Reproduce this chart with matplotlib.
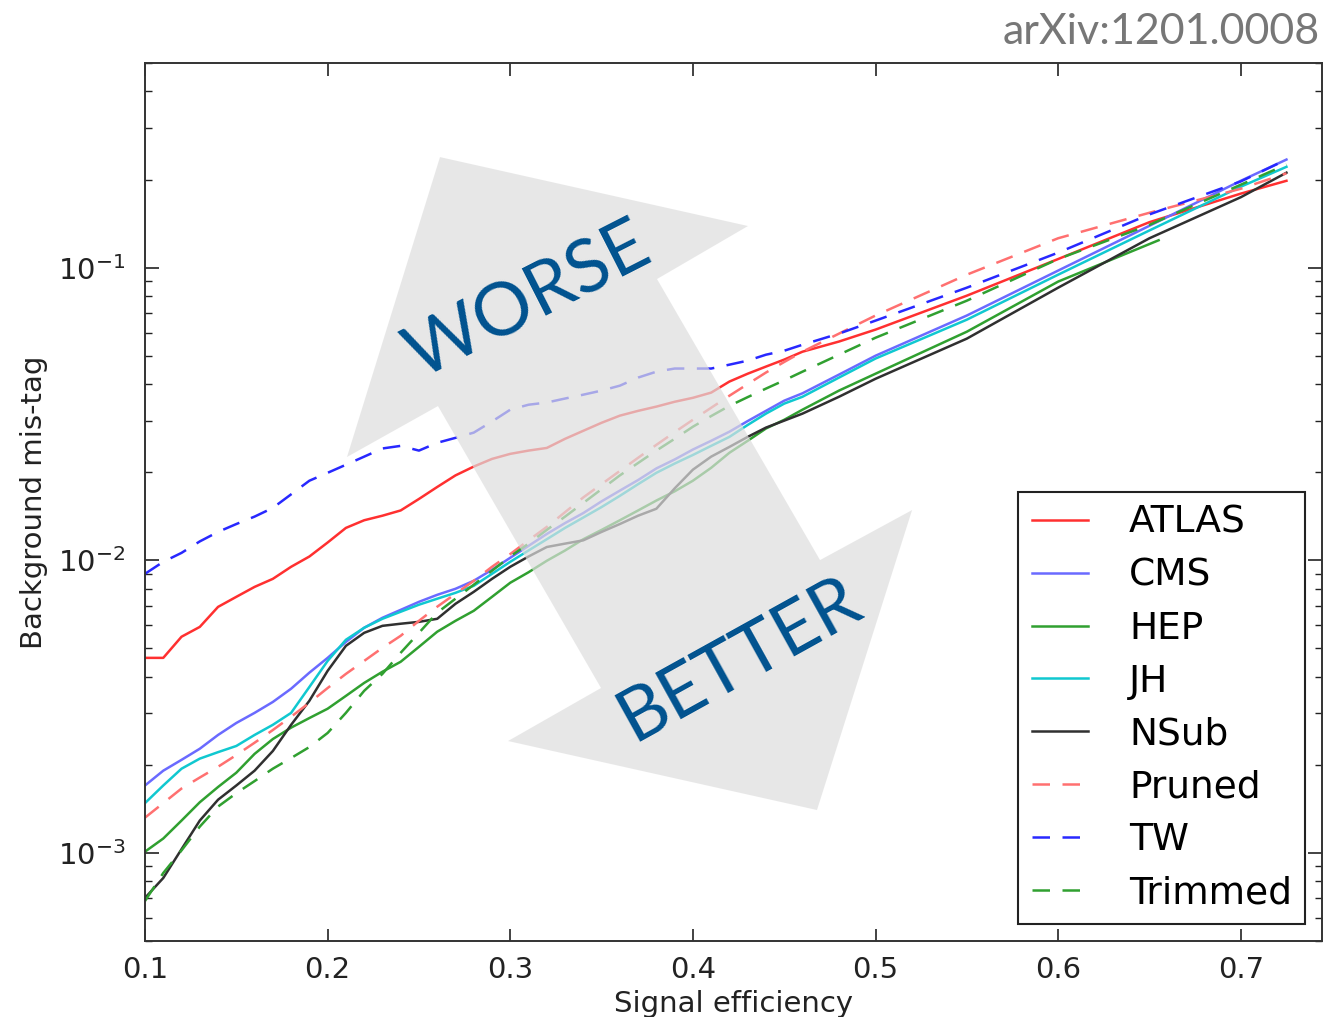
import matplotlib
matplotlib.use("Agg")
import matplotlib.pyplot as plt
from matplotlib.patches import Polygon

plt.rcParams['axes.unicode_minus'] = False

# signal efficiency grid shared by the curves
eff = [0.10, 0.11, 0.12, 0.13, 0.14, 0.15, 0.16, 0.17, 0.18, 0.19,
       0.20, 0.21, 0.22, 0.23, 0.24, 0.25, 0.26, 0.27, 0.28, 0.29,
       0.30, 0.31, 0.32, 0.33, 0.34, 0.35, 0.36, 0.37, 0.38, 0.39,
       0.40, 0.41, 0.42, 0.43, 0.44, 0.45, 0.46, 0.48, 0.50, 0.55,
       0.60, 0.65, 0.70, 0.725]
# HEP stops earlier
eff_hep = [0.10, 0.11, 0.12, 0.13, 0.14, 0.15, 0.16, 0.17, 0.18, 0.19,
           0.20, 0.21, 0.22, 0.23, 0.24, 0.25, 0.26, 0.27, 0.28, 0.29,
           0.30, 0.31, 0.32, 0.33, 0.34, 0.35, 0.36, 0.37, 0.38, 0.39,
           0.40, 0.41, 0.42, 0.43, 0.44, 0.45, 0.46, 0.48, 0.50, 0.55,
           0.60, 0.655]

atlas = [0.00464, 0.00464, 0.00548, 0.00592, 0.00693, 0.00750, 0.00811, 0.00864, 0.00950, 0.0103,
         0.0115, 0.0129, 0.0137, 0.0142, 0.0148, 0.0162, 0.0178, 0.0195, 0.0209, 0.0222,
         0.0231, 0.0237, 0.0242, 0.0260, 0.0277, 0.0295, 0.0312, 0.0324, 0.0335, 0.0348,
         0.0359, 0.0374, 0.0408, 0.0434, 0.0459, 0.0485, 0.0516, 0.0559, 0.0614, 0.0802,
         0.107, 0.143, 0.179, 0.198]
cms = [0.00170, 0.00191, 0.00208, 0.00227, 0.00253, 0.00278, 0.00301, 0.00328, 0.00364, 0.00413,
       0.00464, 0.00526, 0.00588, 0.00636, 0.00677, 0.00721, 0.00762, 0.00799, 0.00851, 0.00928,
       0.0102, 0.0112, 0.0123, 0.0134, 0.0145, 0.0159, 0.0173, 0.0188, 0.0206, 0.0221,
       0.0239, 0.0256, 0.0275, 0.0299, 0.0324, 0.0351, 0.0372, 0.0431, 0.0500, 0.0686,
       0.0977, 0.139, 0.198, 0.234]
hep = [0.00101, 0.00112, 0.00129, 0.00149, 0.00168, 0.00188, 0.00218, 0.00245, 0.00268, 0.00289,
       0.00311, 0.00344, 0.00381, 0.00416, 0.00450, 0.00506, 0.00570, 0.00621, 0.00672, 0.00750,
       0.00838, 0.0091, 0.00996, 0.0108, 0.0118, 0.0127, 0.0137, 0.0148, 0.0160, 0.0172,
       0.0187, 0.0207, 0.0233, 0.0256, 0.0282, 0.0302, 0.0327, 0.0380, 0.0434, 0.0604,
       0.0896, 0.124]
jh = [0.00148, 0.00170, 0.00194, 0.00210, 0.00221, 0.00232, 0.00253, 0.00274, 0.00301, 0.00369,
      0.00453, 0.00535, 0.00588, 0.00631, 0.00667, 0.00705, 0.00739, 0.00774, 0.00818, 0.00899,
      0.00988, 0.0108, 0.0118, 0.0129, 0.0140, 0.0152, 0.0166, 0.0182, 0.0199, 0.0214,
      0.0229, 0.0246, 0.0264, 0.0290, 0.0317, 0.0343, 0.0362, 0.0421, 0.0489, 0.0664,
      0.0946, 0.134, 0.189, 0.221]
nsub = [0.000702, 0.000821, 0.00103, 0.00129, 0.00152, 0.00170, 0.00191, 0.00223, 0.00274, 0.00331,
        0.00419, 0.00510, 0.00565, 0.00597, 0.00607, 0.00616, 0.00631, 0.00710, 0.00780, 0.00864,
        0.00950, 0.0103, 0.0111, 0.0114, 0.0117, 0.0125, 0.0133, 0.0142, 0.0150, 0.0176,
        0.0204, 0.0226, 0.0244, 0.0264, 0.0284, 0.0300, 0.0317, 0.0362, 0.0417, 0.0572,
        0.0854, 0.126, 0.174, 0.211]
pruned = [0.00132, 0.00148, 0.00166, 0.00181, 0.00197, 0.00216, 0.00238, 0.00263, 0.00292, 0.00326,
          0.00366, 0.00409, 0.00453, 0.00502, 0.00552, 0.00621, 0.00694, 0.00768, 0.00851, 0.00950,
          0.0105, 0.0117, 0.0130, 0.0146, 0.0164, 0.0182, 0.0202, 0.0224, 0.0248, 0.0274,
          0.0302, 0.0332, 0.0365, 0.0400, 0.0438, 0.0476, 0.0516, 0.0595, 0.0686, 0.0946,
          0.126, 0.154, 0.186, 0.210]
tw = [0.00899, 0.00988, 0.0106, 0.0116, 0.0125, 0.0133, 0.0141, 0.0151, 0.0168, 0.0187,
      0.0199, 0.0212, 0.0226, 0.0241, 0.0246, 0.0237, 0.0252, 0.0262, 0.0273, 0.0298,
      0.0327, 0.0340, 0.0346, 0.0357, 0.0368, 0.0380, 0.0395, 0.0421, 0.0441, 0.0452,
      0.0452, 0.0452, 0.0466, 0.0481, 0.0504, 0.0520, 0.0545, 0.0595, 0.0659, 0.0854,
      0.1125, 0.152, 0.197, 0.234]
trimmed = [0.000685, 0.000854, 0.00102, 0.00123, 0.00144, 0.00160, 0.00176, 0.00194, 0.00211, 0.00230,
           0.00257, 0.00301, 0.00358, 0.00409, 0.00483, 0.00565, 0.00662, 0.00739, 0.00825, 0.00921,
           0.0103, 0.0114, 0.0127, 0.0141, 0.0157, 0.0175, 0.0195, 0.0215, 0.0237, 0.0260,
           0.0286, 0.0311, 0.0337, 0.0361, 0.0386, 0.0412, 0.0441, 0.0504, 0.0576, 0.0771,
           0.107, 0.140, 0.192, 0.225]

curves = [
    ('ATLAS', eff, atlas, '#ff3030', '-'),
    ('CMS', eff, cms, '#6a6aff', '-'),
    ('HEP', eff_hep, hep, '#30a030', '-'),
    ('JH', eff, jh, '#10c8d0', '-'),
    ('NSub', eff, nsub, '#303030', '-'),
    ('Pruned', eff, pruned, '#ff7070', '--'),
    ('TW', eff, tw, '#2828ff', '--'),
    ('Trimmed', eff, trimmed, '#30a030', '--'),
]

fig = plt.figure(figsize=(13.23, 10.17), dpi=100)
ax = fig.add_axes([0.1096, 0.0747, 0.8897, 0.8633])

for name, xs, ys, col, ls in curves:
    line, = ax.plot(xs, ys, color=col, ls=ls, lw=1.8, label=name, zorder=2)
    if ls == '--':
        line.set_dashes((7, 5))

ax.set_yscale('log')
ax.set_xlim(0.1, 0.7445)
ax.set_ylim(5e-4, 0.5)
ax.set_xticks([0.1, 0.2, 0.3, 0.4, 0.5, 0.6, 0.7])
ax.tick_params(which='both', direction='in', top=True, right=True,
               labelsize=21, labelcolor='#222222', color='#222222')
ax.tick_params(axis='x', which='major', length=9, width=1.2, pad=11)
ax.tick_params(axis='y', which='major', length=10, width=1.2, pad=14)
ax.tick_params(axis='y', which='minor', length=5, width=1.0)
ax.tick_params(axis='x', which='minor', bottom=False, top=False)
for sp in ax.spines.values():
    sp.set_linewidth(1.4)
    sp.set_color('#333333')

ax.set_xlabel('Signal efficiency', fontsize=21, color='#222222', labelpad=4)
ax.set_ylabel('Background mis-tag', fontsize=21, color='#222222', labelpad=7)

# big grey double arrow, in axes fraction
arrow_pts = [(0.2506, 0.8929), (0.5123, 0.8144), (0.4350, 0.7540),
             (0.5735, 0.4339), (0.6517, 0.4909), (0.5709, 0.1492),
             (0.3084, 0.2278), (0.3874, 0.2882), (0.2489, 0.6093),
             (0.1716, 0.5513)]
ax.add_patch(Polygon(arrow_pts, closed=True, transform=ax.transAxes,
                     facecolor='#dedede', edgecolor='none', alpha=0.7, zorder=3))

ax.text(0.326, 0.728, 'WORSE', transform=ax.transAxes, rotation=27,
        ha='center', va='center', fontsize=53, color='#00528f',
        family='Lato', zorder=4, rotation_mode='anchor')
ax.text(0.505, 0.320, 'BETTER', transform=ax.transAxes, rotation=29,
        ha='center', va='center', fontsize=53, color='#00528f',
        family='Lato', zorder=4, rotation_mode='anchor')

leg = ax.legend(loc='lower right', fontsize=27, frameon=True, fancybox=False,
                handlelength=1.5, handletextpad=1.1, labelspacing=0.45,
                borderpad=0.35, borderaxespad=0.45, framealpha=1)
leg.get_frame().set_edgecolor('#222222')
leg.get_frame().set_linewidth(1.5)
leg.set_zorder(5)

fig.text(0.998, 0.957, 'arXiv:1201.0008', ha='right', va='baseline',
         fontsize=31, color='#777777', family='Lato')

fig.savefig('out.png', dpi=100)
